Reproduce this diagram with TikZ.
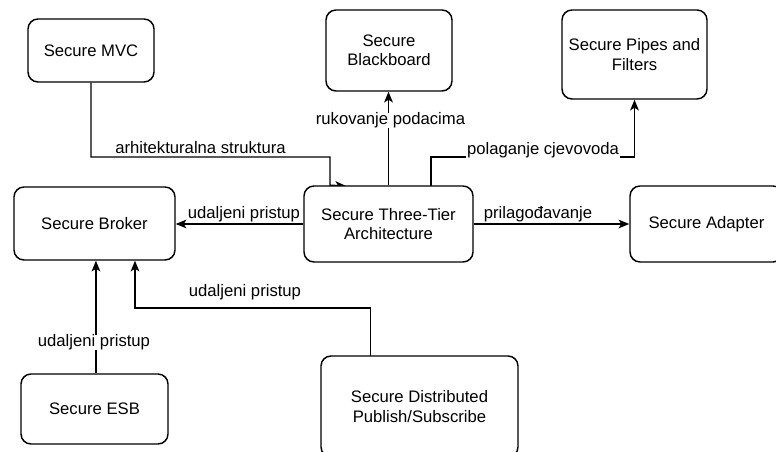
\documentclass[tikz,border=0pt]{standalone}
\usepackage{fontspec}
\setmainfont{Liberation Sans}
\usetikzlibrary{arrows.meta}
\pgfdeclarelayer{bg}
\pgfsetlayers{bg,main}
\tikzset{
  box/.style={draw, line width=1.1pt, rounded corners=7.5pt, fill=white, align=center,
    font=\fontsize{12.5pt}{14.5pt}\selectfont, inner sep=2pt},
  arr/.style={line width=1.1pt, -{Stealth[length=8pt,width=6.5pt,inset=2pt]}},
  lbl/.style={font=\fontsize{12.5pt}{14.5pt}\selectfont, anchor=base, inner sep=0pt},
  lblw/.style={lbl, fill=white, inner xsep=0.5pt}
}
\begin{document}
\begin{tikzpicture}[x=0.75pt,y=-0.75pt]
\useasboundingbox (0,0) rectangle (776,452);
% boxes
\node[box, minimum width=94.5pt, minimum height=47.25pt] (mvc) at (91,50.5) {Secure MVC};
\node[box, minimum width=94.5pt, minimum height=60.75pt] (bb) at (389,50.5) {Secure\\Blackboard};
\node[box, minimum width=108.75pt, minimum height=66.75pt] (pipes) at (634.5,54.5) {Secure Pipes and\\Filters};
\node[box, minimum width=120.75pt, minimum height=54.75pt] (broker) at (94.5,223.5) {Secure Broker};
\node[box, minimum width=126.75pt, minimum height=57pt] (tt) at (388.5,224) {Secure Three-Tier\\Architecture};
\node[box, minimum width=114.75pt, minimum height=57pt] (adapter) at (706.5,224) {Secure Adapter};
\node[box, minimum width=110.25pt, minimum height=52.5pt] (esb) at (94.5,409) {Secure ESB};
\node[box, minimum width=147.75pt, minimum height=75.75pt] (dist) at (419.5,406.5) {Secure Distributed\\Publish/Subscribe};
% bend points
\coordinate (k1) at (330,157);
\coordinate (mvcend) at (346,186);
\coordinate (p0) at (431,186);
\coordinate (d0) at (370.5,356);
\coordinate (k2) at (135,308);
% connectors
\begin{pgfonlayer}{bg}
\draw[arr] (mvc.south) |- (k1) -- (k1 |- tt.north) -- (mvcend);
\draw[arr] (tt.north) -- (tt.north |- bb.south);
\draw[arr] (p0) |- (pipes.south |- k1) -- (pipes.south);
\draw[arr] (tt.west) -- (tt.west -| broker.east);
\draw[arr] (tt.east) -- (adapter.west);
\draw[arr] ([xshift=1.1pt]esb.north) -- ([xshift=1.1pt]esb.north |- broker.south);
\draw[arr] (d0) |- (k2) -- (k2 |- broker.south);
\end{pgfonlayer}
% labels
\node[lbl] (l1) at (200.5,154) {arhitekturalna struktura};
\node[lblw] (l2) at (390.5,125) {rukovanje podacima};
\node[lblw] (l3) at (543,155) {polaganje cjevovoda};
\node[lbl] (l4) at (244,219) {udaljeni pristup};
\node[lbl] (l5) at (538,219) {prilagođavanje};
\node[lbl] (l6) at (245,297) {udaljeni pristup};
\node[lblw] (l7) at (94,347) {udaljeni pristup};
\end{tikzpicture}
\end{document}
